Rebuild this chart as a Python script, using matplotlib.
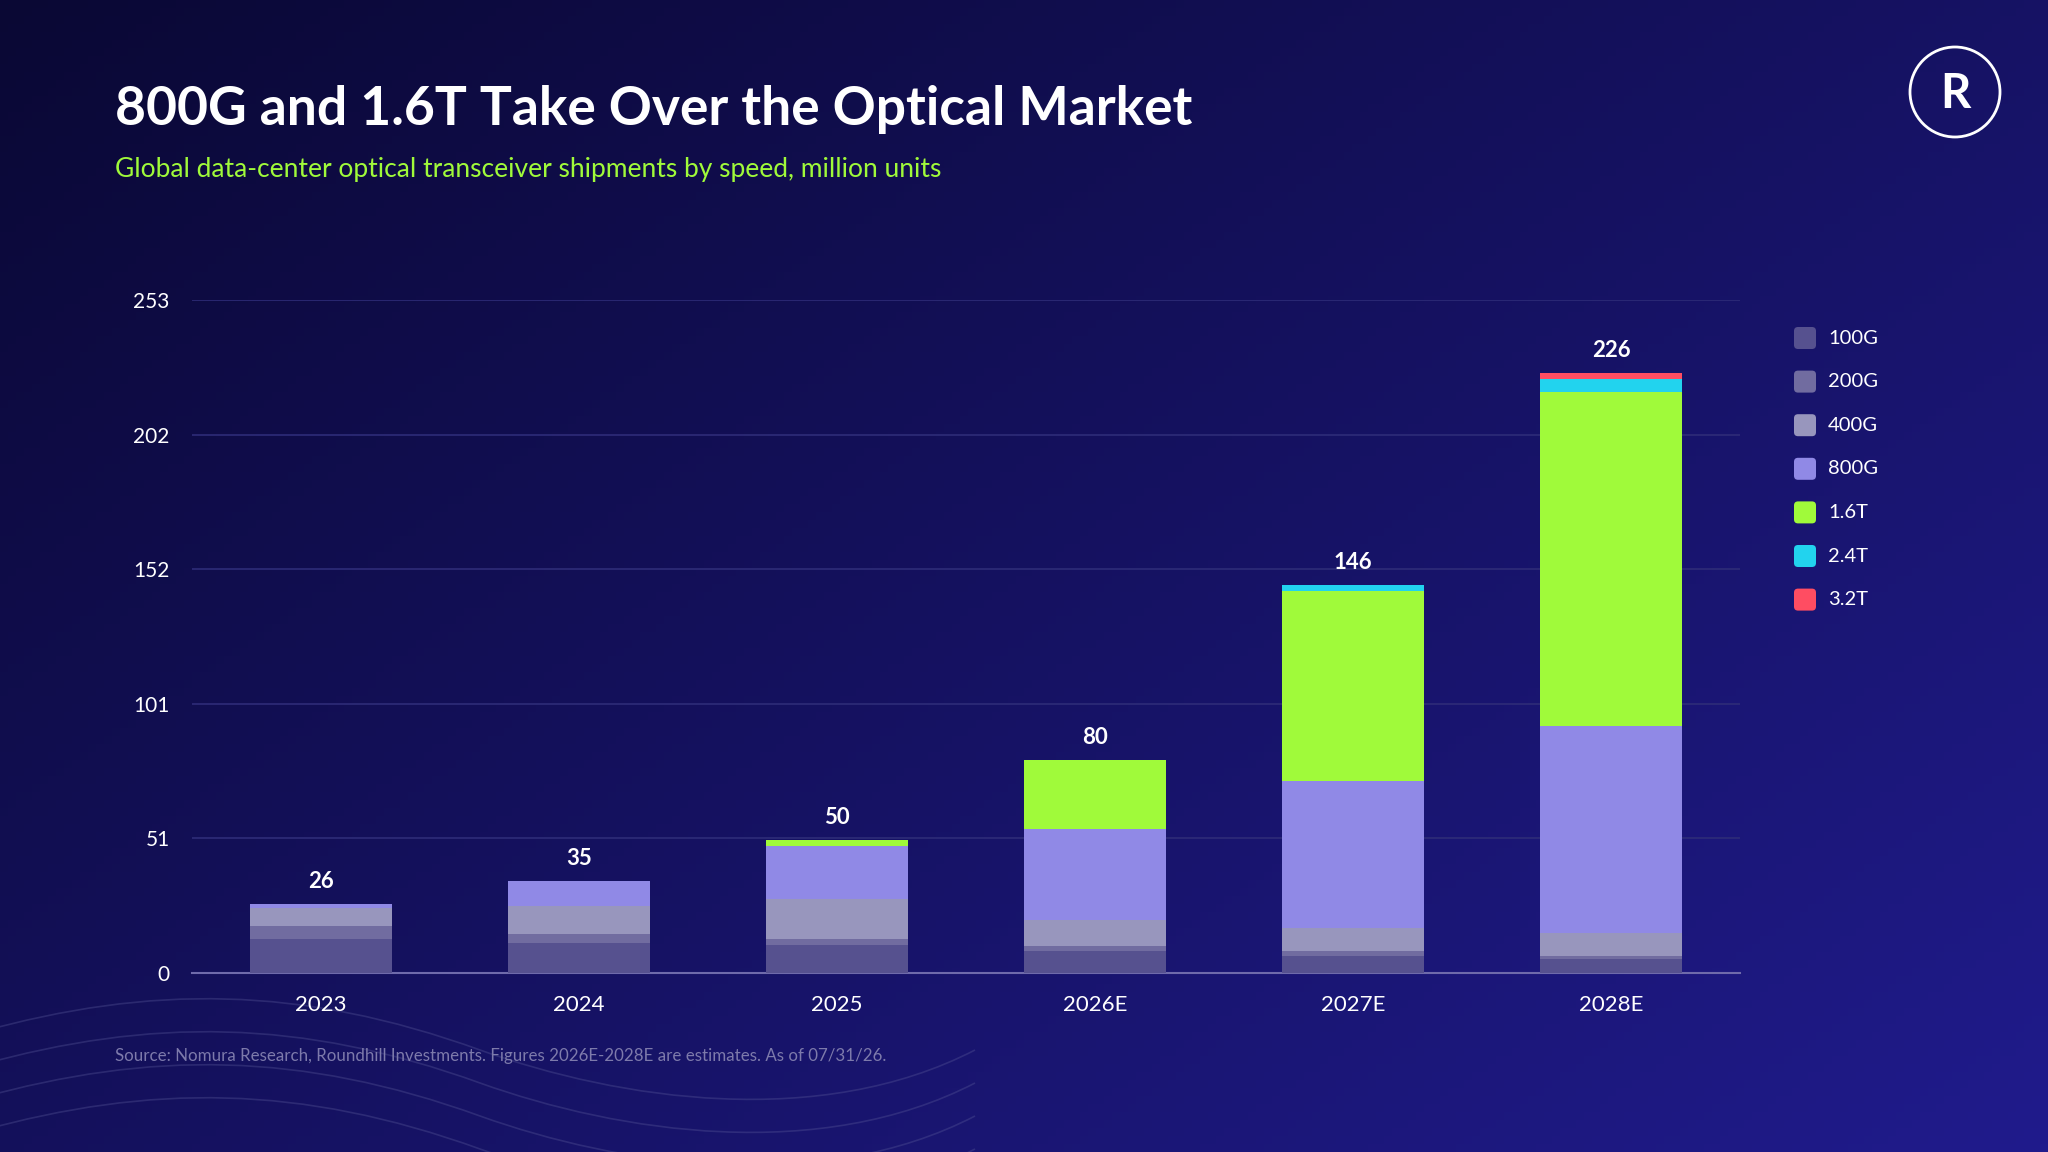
import numpy as np
import matplotlib
matplotlib.use("Agg")
import matplotlib.pyplot as plt
from matplotlib.patches import FancyBboxPatch, Circle, PathPatch
from matplotlib.path import Path

plt.rcParams['font.family'] = ['Lato', 'DejaVu Sans']

# data (million units)
years = ["2023", "2024", "2025", "2026E", "2027E", "2028E"]
speeds = ["100G", "200G", "400G", "800G", "1.6T", "2.4T", "3.2T"]
v_100g = [12.7, 11.3, 10.3, 8.0, 6.3, 5.3]
v_200g = [4.8, 3.1, 2.4, 2.0, 1.9, 1.0]
v_400g = [6.8, 10.8, 14.9, 10.0, 8.8, 8.5]
v_800g = [1.5, 9.4, 20.1, 33.9, 55.2, 78.0]
v_1p6t = [0.0, 0.0, 2.3, 26.0, 71.5, 125.8]
v_2p4t = [0.0, 0.0, 0.0, 0.0, 2.3, 5.0]
v_3p2t = [0.0, 0.0, 0.0, 0.0, 0.0, 2.1]
y_max = 253

colors = ['#56518f', '#716ca0', '#9896bd', '#9089e6', '#a0fa3a', '#22d3ee', '#ff4d62']
series = [v_100g, v_200g, v_400g, v_800g, v_1p6t, v_2p4t, v_3p2t]

W, H = 2048, 1152
fig = plt.figure(figsize=(W / 100, H / 100), dpi=100)

# background layer in pixel coords
bg = fig.add_axes([0, 0, 1, 1], zorder=0)
bg.set_xlim(0, W)
bg.set_ylim(H, 0)
bg.axis('off')
gx, gy = np.meshgrid(np.linspace(0, 1, 256), np.linspace(0, 1, 144))
t = np.clip(0.55 * gx + 0.45 * gy, 0, 1)[..., None]
c0 = np.array([10, 8, 52]) / 255
c1 = np.array([32, 27, 140]) / 255
bg.imshow(c0 + (c1 - c0) * t, extent=[0, W, H, 0], aspect='auto', zorder=0)

# faint wave lines bottom-left
for dy in [0, 33, 66, 99]:
    verts = [(-20, 1032 + dy), (150, 985 + dy), (300, 985 + dy), (480, 1050 + dy),
             (620, 1100 + dy), (820, 1130 + dy), (975, 1050 + dy)]
    codes = [Path.MOVETO, Path.CURVE4, Path.CURVE4, Path.CURVE4,
             Path.CURVE4, Path.CURVE4, Path.CURVE4]
    bg.add_patch(PathPatch(Path(verts, codes), facecolor='none',
                           edgecolor='#5a5a9a', lw=1.2, alpha=0.35, zorder=1))

# title and subtitle
bg.text(115, 110, "800G and 1.6T Take Over the Optical Market", color='white',
        fontsize=38.4, fontweight='bold', ha='left', va='center')
bg.text(115, 170, "Global data-center optical transceiver shipments by speed, million units",
        color='#a0fa3a', fontsize=19, ha='left', va='center')
bg.text(115, 1056, "Source: Nomura Research, Roundhill Investments. Figures 2026E-2028E are estimates. As of 07/31/26.",
        color='#7d7aab', fontsize=12.2, ha='left', va='center')

# logo
bg.add_patch(Circle((1955, 92), 45, facecolor='none', edgecolor='white', lw=2, zorder=3))
bg.text(1955, 94, "R", color='white', fontsize=34, fontweight='bold',
        ha='center', va='center', zorder=3)

# legend
for i, (name, col) in enumerate(zip(speeds, colors)):
    yc = 338 + i * 43.6
    bg.add_patch(FancyBboxPatch((1794, yc - 11), 22, 22, boxstyle='round,pad=0,rounding_size=4',
                                facecolor=col, edgecolor='none', zorder=3))
    bg.text(1828, yc, name, color='white', fontsize=14.5, ha='left', va='center')

# main chart
ax = fig.add_axes([192 / W, 1 - 972.7 / H, (1740 - 192) / W, (972.7 - 300.4) / H], zorder=2)
ax.patch.set_alpha(0)
x = np.arange(len(years))
bottom = np.zeros(len(years))
for vals, col in zip(series, colors):
    vals = np.array(vals)
    ax.bar(x, vals, width=0.55, bottom=bottom, color=col, linewidth=0, zorder=3)
    bottom += vals

for xi, tot in zip(x, bottom):
    ax.text(xi, tot + 4.5, f"{tot:.0f}", color='white', fontsize=16, fontweight='bold',
            ha='center', va='bottom', zorder=4)

ticks = np.linspace(0, y_max, 6)
ax.set_yticks(ticks)
ax.set_yticklabels([f"{v:.0f}" for v in ticks])
ax.set_ylim(0, y_max)
ax.set_xlim(-0.5, len(years) - 0.5)
ax.set_xticks(x)
ax.set_xticklabels(years)
ax.grid(axis='y', color='#2e2c78', lw=1.2, zorder=0)
ax.tick_params(axis='both', length=0, colors='white', labelsize=15)
ax.tick_params(axis='x', pad=16, labelsize=16)
ax.tick_params(axis='y', pad=16)
for s in ['top', 'right', 'left']:
    ax.spines[s].set_visible(False)
ax.spines['bottom'].set_color('#6f6bab')
ax.spines['bottom'].set_linewidth(1.5)

fig.savefig("out.png", dpi=100)
